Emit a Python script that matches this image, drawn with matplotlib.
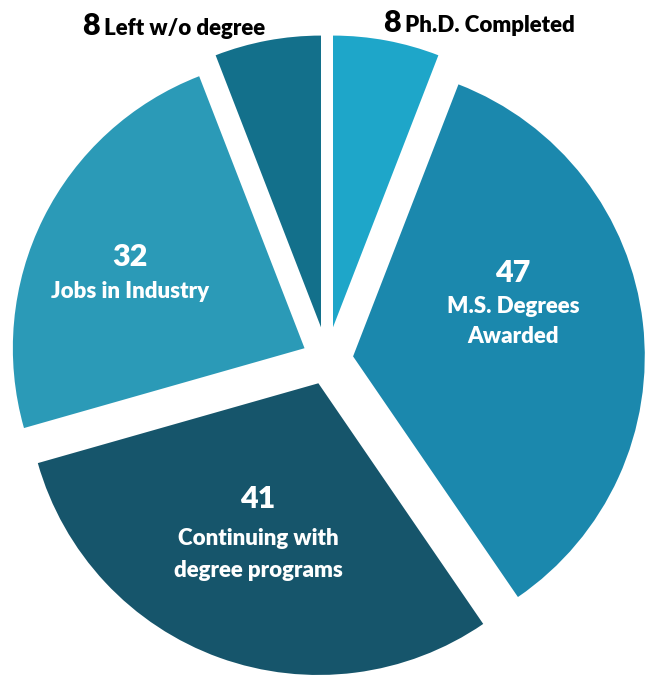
import matplotlib
matplotlib.use('Agg')
import matplotlib.pyplot as plt

# outcomes, clockwise from 12 o'clock
categories = ['Ph.D. Completed', 'M.S. Degrees\nAwarded', 'Continuing with\ndegree programs',
              'Jobs in Industry', 'Left w/o degree']
counts = [8, 47, 41, 32, 8]
colors = ['#1ea6c9', '#1b88ad', '#16556b', '#2b9ab7', '#13708b']
explode = [0.112, 0.09, 0.087, 0.086, 0.112]

FONT = ['Lato', 'DejaVu Sans']
W, H = 647, 677

fig = plt.figure(figsize=(W / 100, H / 100), dpi=100)
ax = fig.add_axes([0, 0, 1, 1])
ax.pie(counts, explode=explode, colors=colors, startangle=90, counterclock=False,
       radius=1, wedgeprops=dict(linewidth=0))
R = 291.7
cx, cy = 327, 359.4
ax.set_xlim(-cx / R, (W - cx) / R)
ax.set_ylim((cy - H) / R, cy / R)
ax.set_aspect('equal')
ax.axis('off')


def px(x, y):
    return x / W, 1 - y / H


# labels inside the big slices: number on top, description below
inside = [(1, 513, 282, 313, 30), (2, 258, 508, 545, 32), (3, 130, 266, 298, 31)]
for i, x, ynum, ylab, dy in inside:
    fig.text(*px(x, ynum), str(counts[i]), ha='center', va='baseline', color='white',
             fontsize=22, fontweight='heavy', family=FONT)
    for k, line in enumerate(categories[i].split('\n')):
        fig.text(*px(x, ylab + k * dy), line, ha='center', va='baseline', color='white',
                 fontsize=16, fontweight='heavy', family=FONT)

# labels above the two small slices
outside = [(4, 82, 104, 35), (0, 383, 405, 32)]
for i, xn, xt, yb in outside:
    fig.text(*px(xn, yb), str(counts[i]), ha='left', va='baseline', color='black',
             fontsize=22, fontweight='heavy', family=FONT)
    fig.text(*px(xt, yb), categories[i], ha='left', va='baseline', color='black',
             fontsize=16, fontweight='heavy', family=FONT)

plt.savefig('out.png', dpi=100)
